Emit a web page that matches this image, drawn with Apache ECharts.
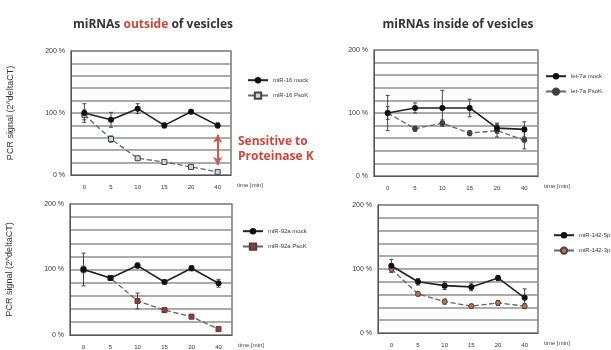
<!DOCTYPE html>
<html>
<head>
<meta charset="utf-8">
<script src="https://cdn.jsdelivr.net/npm/echarts@6/dist/echarts.min.js"></script>
<style>
  html, body { margin: 0; padding: 0; background: #fff; }
  #chart { width: 611px; height: 350px; }
</style>
</head>
<body>
<div id="chart"></div>
<script>
// time points (x categories)
const times = ['0', '5', '10', '15', '20', '40'];

// PCR signal in %
const mir16Mock = [100, 89, 107, 80, 102, 80];
const mir16PsoK = [97, 58, 27, 21, 13, 5];
const let7aMock = [100, 108, 108, 108, 76, 74];
const let7aPsoK = [100, 75, 84, 68, 72, 57];
const mir92aMock = [100, 87, 106, 81, 102, 79];
const mir92aPsoK = [100, 87, 52, 38, 28, 9];
const mir142Mock = [105, 80, 74, 72, 86, 55];
const mir142PsoK = [100, 61, 49, 42, 47, 42];

// error bars (+/-)
const mir16MockErr = [15, 12, 8, 4, 3, 4];
const mir16PsoKErr = [8, 5, 3, 2, 2, 2];
const let7aMockErr = [28, 8, 28, 14, 8, 12];
const let7aPsoKErr = [10, 4, 5, 4, 10, 14];
const mir92aMockErr = [25, 3, 4, 3, 4, 6];
const mir92aPsoKErr = [5, 3, 12, 3, 3, 3];
const mir142MockErr = [10, 5, 6, 6, 4, 14];
const mir142PsoKErr = [5, 3, 4, 3, 4, 4];

// proteinase K sensitivity arrow (at 40 min)
const arrowRange = [65, 16];

const panels = [
    {grid: {left: 71, top: 51, width: 160, height: 124}, legend: {left: 242, top: 72},
     mock: ['miR-16 mock', mir16Mock, mir16MockErr],
     psok: ['miR-16 PsoK', mir16PsoK, mir16PsoKErr, 'rect', '#c9d6de'], yName: true},
    {grid: {left: 374, top: 50, width: 164, height: 126}, legend: {left: 540, top: 68},
     mock: ['let-7a mock', let7aMock, let7aMockErr],
     psok: ['let-7a PsoK', let7aPsoK, let7aPsoKErr, 'circle', '#3a3a5e'], yName: false},
    {grid: {left: 70, top: 204, width: 162, height: 131}, legend: {left: 237, top: 223},
     mock: ['miR-92a mock', mir92aMock, mir92aMockErr],
     psok: ['miR-92a PsoK', mir92aPsoK, mir92aPsoKErr, 'rect', '#a8352c'], yName: true},
    {grid: {left: 378, top: 205, width: 160, height: 128}, legend: {left: 548, top: 227},
     mock: ['miR-142-5p mock', mir142Mock, mir142MockErr],
     psok: ['miR-142-3p PsoK', mir142PsoK, mir142PsoKErr, 'circle', '#c8703e'], yName: false}
];

function errorBars(values, errs) {
    return values.map((v, i) => [i, v - errs[i], v + errs[i]]);
}

function renderErr(params, api) {
    var lo = api.coord([api.value(0), api.value(1)]);
    var hi = api.coord([api.value(0), api.value(2)]);
    var w = 2;
    var style = {stroke: '#444', lineWidth: 1};
    return {
        type: 'group',
        children: [
            {type: 'line', shape: {x1: lo[0], y1: lo[1], x2: hi[0], y2: hi[1]}, style: style},
            {type: 'line', shape: {x1: lo[0] - w, y1: lo[1], x2: lo[0] + w, y2: lo[1]}, style: style},
            {type: 'line', shape: {x1: hi[0] - w, y1: hi[1], x2: hi[0] + w, y2: hi[1]}, style: style}
        ]
    };
}

var grids = [], xAxes = [], yAxes = [], legends = [], series = [];

panels.forEach((p, i) => {
    grids.push(Object.assign({show: true, borderColor: '#555', borderWidth: 1.2}, p.grid));
    xAxes.push({
        type: 'category', gridIndex: i, data: times,
        name: 'time [min]', nameLocation: 'end', nameGap: 6,
        nameTextStyle: {fontSize: 6, color: '#444', verticalAlign: 'top', padding: [7, 0, 0, 0]},
        axisLine: {lineStyle: {color: '#555'}},
        axisTick: {length: 3, lineStyle: {color: '#555'}},
        axisLabel: {fontSize: 6, color: '#333', margin: 9}
    });
    yAxes.push({
        type: 'value', gridIndex: i, min: 0, max: 200, interval: 20,
        name: p.yName ? 'PCR signal (2^deltaCT)' : '',
        nameLocation: 'middle', nameGap: 56,
        nameTextStyle: {fontSize: 9, color: '#333'},
        axisLine: {show: true, lineStyle: {color: '#555'}},
        axisTick: {show: false},
        axisLabel: {
            fontSize: 7, color: '#333', margin: 6,
            formatter: v => (v % 100 === 0 ? v + ' %' : '')
        },
        splitLine: {lineStyle: {color: '#8f8f8f', width: 1.5}}
    });
    legends.push({
        orient: 'vertical', left: p.legend.left, top: p.legend.top,
        itemWidth: 20, itemHeight: 8, itemGap: 8,
        textStyle: {fontSize: 6, color: '#333'},
        data: [p.mock[0], p.psok[0]]
    });
    series.push({
        type: 'custom', xAxisIndex: i, yAxisIndex: i, renderItem: renderErr,
        data: errorBars(p.mock[1], p.mock[2]), z: 1
    });
    series.push({
        type: 'custom', xAxisIndex: i, yAxisIndex: i, renderItem: renderErr,
        data: errorBars(p.psok[1], p.psok[2]), z: 1
    });
    series.push({
        name: p.psok[0], type: 'line', xAxisIndex: i, yAxisIndex: i,
        data: p.psok[1], symbol: p.psok[3], symbolSize: 5,
        lineStyle: {color: '#666', width: 1.3, type: 'dashed'},
        itemStyle: {color: p.psok[4], borderColor: '#444', borderWidth: 1},
        z: 3,
        markLine: i === 0 ? {
            silent: true, symbol: ['arrow', 'arrow'], symbolSize: [7, 8],
            label: {show: false},
            lineStyle: {color: '#d9534f', width: 2, type: 'solid'},
            data: [[{coord: ['40', arrowRange[0]]}, {coord: ['40', arrowRange[1]]}]]
        } : undefined
    });
    series.push({
        name: p.mock[0], type: 'line', xAxisIndex: i, yAxisIndex: i,
        data: p.mock[1], symbol: 'circle', symbolSize: 6,
        lineStyle: {color: '#222', width: 1.6},
        itemStyle: {color: '#111'},
        z: 4
    });
});

var chart = echarts.init(document.getElementById('chart'));
chart.setOption({
    animation: false,
    backgroundColor: '#fff',
    title: [
        {
            text: '{a|miRNAs }{b|outside}{a| of vesicles}',
            left: 148, top: 14, textAlign: 'center',
            textStyle: {rich: {
                a: {fontSize: 12, fontWeight: 'bold', color: '#333', fontFamily: 'Open Sans'},
                b: {fontSize: 12, fontWeight: 'bold', color: '#d0453a', fontFamily: 'Open Sans'}
            }}
        },
        {
            text: 'miRNAs inside of vesicles',
            left: 453, top: 14, textAlign: 'center',
            textStyle: {fontSize: 12, fontWeight: 'bold', color: '#333', fontFamily: 'Open Sans'}
        }
    ],
    graphic: [{
        type: 'text', left: 238, top: 134,
        style: {
            text: 'Sensitive to\nProteinase K', fill: '#d0453a',
            font: 'bold 12px "Open Sans"', lineHeight: 15
        }
    }],
    grid: grids,
    xAxis: xAxes,
    yAxis: yAxes,
    legend: legends,
    series: series
});
</script>
</body>
</html>
